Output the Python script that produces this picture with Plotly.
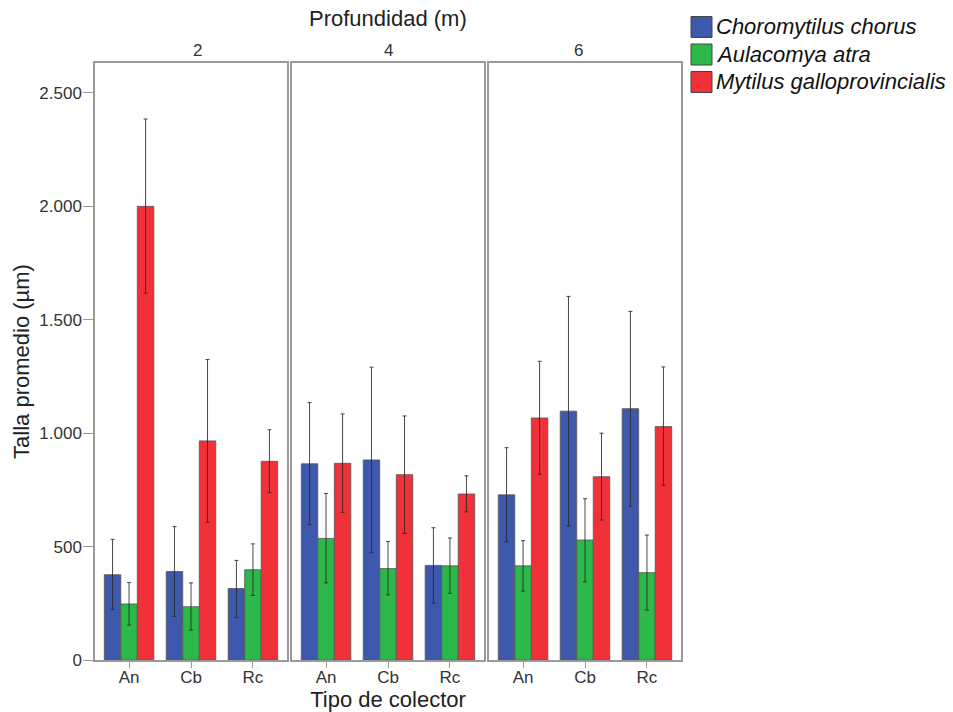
import plotly.graph_objects as go

collectors = ["An", "Cb", "Rc"]
depths = ["2", "4", "6"]
species = ["Choromytilus chorus", "Aulacomya atra", "Mytilus galloprovincialis"]
colors = ["#3E58AC", "#2DB84A", "#F0313A"]

# means per species, ordered depth 2 (An,Cb,Rc), depth 4 (An,Cb,Rc), depth 6 (An,Cb,Rc)
choro_mean = [376, 390, 315, 865, 882, 417, 728, 1097, 1108]
choro_hi = [532, 588, 439, 1135, 1291, 583, 936, 1603, 1537]
choro_lo = [223, 192, 188, 597, 473, 251, 522, 591, 678]

aula_mean = [247, 235, 398, 536, 403, 415, 415, 529, 385]
aula_hi = [342, 340, 512, 734, 522, 538, 526, 711, 551]
aula_lo = [154, 132, 285, 340, 287, 294, 304, 345, 220]

myti_mean = [2000, 966, 876, 867, 817, 732, 1067, 808, 1029]
myti_hi = [2385, 1325, 1015, 1085, 1076, 812, 1317, 1000, 1292]
myti_lo = [1617, 607, 738, 651, 558, 653, 819, 617, 770]

y_ticks = [0, 500, 1000, 1500, 2000, 2500]

means = [choro_mean, aula_mean, myti_mean]
his = [choro_hi, aula_hi, myti_hi]
los = [choro_lo, aula_lo, myti_lo]

fig = go.Figure()
for d in range(3):
    sl = slice(3 * d, 3 * d + 3)
    for s in range(3):
        m = means[s][sl]
        up = [h - v for h, v in zip(his[s][sl], m)]
        dn = [v - l for v, l in zip(m, los[s][sl])]
        fig.add_trace(go.Bar(
            x=collectors, y=m, name=species[s],
            showlegend=False,
            marker=dict(color=colors[s], line=dict(color="#555555", width=0.8)),
            error_y=dict(type="data", array=up, arrayminus=dn, color="rgba(40,40,40,0.85)",
                         thickness=1, width=2),
            xaxis="x" if d == 0 else f"x{d+1}",
            yaxis="y" if d == 0 else f"y{d+1}",
        ))

W, H = 953, 712
L, R, T, B = 95, 272, 63, 52
pw = W - L - R
ph = H - T - B
domains = [[0, 192 / pw], [197 / pw, 389 / pw], [394 / pw, 1]]

axis_line = dict(showline=True, mirror=True, linecolor="#9a9a9a", linewidth=1.5)
layout = dict(
    width=W, height=H,
    margin=dict(l=L, r=R, t=T, b=B, autoexpand=False),
    plot_bgcolor="white", paper_bgcolor="white",
    font=dict(family="Liberation Sans, Arial, sans-serif", color="#333333", size=17),
    separators=",.",
    barmode="group", bargap=0.2, bargroupgap=0,
    showlegend=False,
)
for d in range(3):
    xk = "xaxis" if d == 0 else f"xaxis{d+1}"
    yk = "yaxis" if d == 0 else f"yaxis{d+1}"
    layout[xk] = dict(domain=domains[d], anchor="y" if d == 0 else f"y{d+1}",
                      type="category", range=[-0.55, 2.55],
                      ticks="outside", ticklen=6, tickcolor="#9a9a9a",
                      ticklabelstandoff=-5,
                      showgrid=False, tickfont=dict(size=17, color="#333333"),
                      **axis_line)
    ya = dict(anchor="x" if d == 0 else f"x{d+1}", range=[0, 2632],
              showgrid=False, zeroline=False, **axis_line)
    if d == 0:
        ya.update(ticks="outside", ticklen=10, tickcolor="#9a9a9a",
                  ticklabelstandoff=-2,
                  tickvals=y_ticks, tickformat=",d",
                  tickfont=dict(size=17, color="#333333"),
                  title=dict(text="Talla promedio (µm)", font=dict(size=22, color="#222222"), standoff=4))
    else:
        ya.update(showticklabels=False, ticks="", matches="y")
    layout[yk] = ya

layout["xaxis2"]["title"] = dict(text="Tipo de colector", font=dict(size=22, color="#222222"), standoff=6)

annotations = [dict(text="Profundidad (m)", x=0.5, y=1.0, xref="paper", yref="paper",
                    yanchor="middle", yshift=45, showarrow=False,
                    font=dict(size=22, color="#222222"))]
for d in range(3):
    annotations.append(dict(text=depths[d], x=(domains[d][0] + domains[d][1]) / 2, y=1.0,
                            xref="paper", yref="paper", yanchor="middle", yshift=13,
                            showarrow=False, font=dict(size=17, color="#333333")))

# custom legend (swatches + italic labels)
shapes = []
sw_x0 = (691 - L) / pw
sw_x1 = (712 - L) / pw
for s in range(3):
    cy = 27 + 27.5 * s
    y0 = (H - B - (cy + 10.5)) / ph
    y1 = (H - B - (cy - 10.5)) / ph
    shapes.append(dict(type="rect", xref="paper", yref="paper", x0=sw_x0, x1=sw_x1,
                       y0=y0, y1=y1, fillcolor=colors[s],
                       line=dict(color="#444444", width=1)))
    annotations.append(dict(text="<i>" + species[s] + "</i>", x=(714 - L) / pw,
                            y=(H - B - cy) / ph, xref="paper", yref="paper",
                            xanchor="left", yanchor="middle", showarrow=False,
                            font=dict(size=22, color="#111111")))
layout["annotations"] = annotations
layout["shapes"] = shapes

fig.update_layout(**layout)
fig.write_html("out.html", config={"displayModeBar": False},
               post_script="document.body.style.margin='0';document.body.style.overflow='hidden';")
